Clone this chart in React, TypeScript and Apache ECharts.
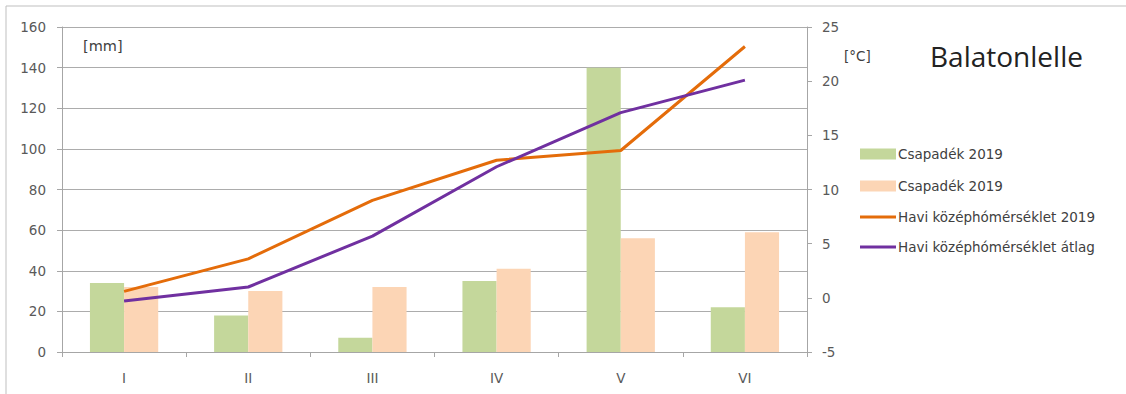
import React, { useEffect, useRef } from "react";
import * as echarts from "echarts";

const months = ["I", "II", "III", "IV", "V", "VI"];
const csapadek2019 = [34, 18, 7, 35, 140, 22];
const csapadekMasik = [32, 30, 32, 41, 56, 59];
const homerseklet2019 = [0.6, 3.6, 9.0, 12.7, 13.6, 23.2];
const homersekletAtlag = [-0.3, 1.0, 5.7, 12.1, 17.1, 20.1];
const mmTicks = { min: 0, max: 160, interval: 20 };
const cTicks = { min: -5, max: 25, interval: 5 };

const FONT = "'DejaVu Sans', sans-serif";

export default function App() {
  const ref = useRef<HTMLDivElement>(null);
  useEffect(() => {
    if (!ref.current) return;
    const chart = echarts.init(ref.current, null, { renderer: "svg" });
    const axisGrey = "#a6a6a6";
    const labelStyle = { color: "#595959", fontSize: 13.5, fontFamily: FONT };
    const legendText = { color: "#404040", fontSize: 13.5, fontFamily: FONT, padding: [0, 0, 0, -3] };
    chart.setOption({
      animation: false,
      backgroundColor: "#ffffff",
      title: {
        text: "Balatonlelle",
        left: 925,
        top: 37,
        textStyle: { fontSize: 28, fontWeight: "normal", color: "#222", fontFamily: "'Open Sans', sans-serif" },
      },
      grid: { left: 62, right: 319, top: 27, bottom: 42, containLabel: false },
      legend: [
        {
          orient: "vertical",
          left: 855,
          top: 142,
          itemGap: 18,
          itemWidth: 36,
          itemHeight: 11,
          icon: "rect",
          formatter: (n: string) => n.trim(),
          textStyle: legendText,
          data: ["Csapadék 2019", "Csapadék 2019 "],
        },
        {
          orient: "vertical",
          left: 855,
          top: 205,
          itemGap: 16,
          itemWidth: 36,
          itemHeight: 3,
          icon: "rect",
          textStyle: legendText,
          data: ["Havi középhómérséklet 2019", "Havi középhómérséklet átlag"],
        },
      ],
      graphic: [
        {
          type: "rect",
          shape: { x: 6, y: 6, width: 1200, height: 500 },
          style: { fill: "none", stroke: "#bfbfbf", lineWidth: 1 },
          silent: true,
        },
        {
          type: "text",
          left: 83,
          top: 38,
          style: { text: "[mm]", fill: "#404040", fontSize: 14.5, fontFamily: FONT },
        },
        {
          type: "text",
          left: 844,
          top: 49,
          style: { text: "[°C]", fill: "#404040", fontSize: 13.5, fontFamily: FONT },
        },
      ],
      xAxis: {
        type: "category",
        data: months,
        axisLine: { lineStyle: { color: axisGrey } },
        axisTick: { show: true, length: 5, lineStyle: { color: axisGrey } },
        axisLabel: { ...labelStyle, margin: 19 },
      },
      yAxis: [
        {
          type: "value",
          ...mmTicks,
          position: "left",
          axisLine: { show: true, lineStyle: { color: axisGrey } },
          axisTick: { show: true, length: 5, lineStyle: { color: axisGrey } },
          axisLabel: { ...labelStyle, margin: 16 },
          splitLine: { show: true, lineStyle: { color: "#acacac", width: 1 } },
        },
        {
          type: "value",
          ...cTicks,
          position: "right",
          axisLine: { show: true, lineStyle: { color: axisGrey } },
          axisTick: { show: true, length: 5, lineStyle: { color: axisGrey } },
          axisLabel: { ...labelStyle, margin: 15 },
          splitLine: { show: false },
        },
      ],
      series: [
        {
          name: "Csapadék 2019",
          type: "bar",
          data: csapadek2019,
          yAxisIndex: 0,
          barGap: "0%",
          barCategoryGap: "45%",
          itemStyle: { color: "#c4d79b" },
        },
        {
          name: "Csapadék 2019 ",
          type: "bar",
          data: csapadekMasik,
          yAxisIndex: 0,
          barGap: "0%",
          barCategoryGap: "45%",
          itemStyle: { color: "#fcd5b5" },
        },
        {
          name: "Havi középhómérséklet 2019",
          type: "line",
          data: homerseklet2019,
          yAxisIndex: 1,
          symbol: "none",
          lineStyle: { color: "#e46c0a", width: 3 },
          itemStyle: { color: "#e46c0a" },
        },
        {
          name: "Havi középhómérséklet átlag",
          type: "line",
          data: homersekletAtlag,
          yAxisIndex: 1,
          symbol: "none",
          lineStyle: { color: "#7030a0", width: 3 },
          itemStyle: { color: "#7030a0" },
        },
      ],
    });
    return () => chart.dispose();
  }, []);
  return (
    <div
      ref={ref}
      style={{ position: "fixed", left: 0, top: 0, width: 1126, height: 394 }}
    />
  );
}
